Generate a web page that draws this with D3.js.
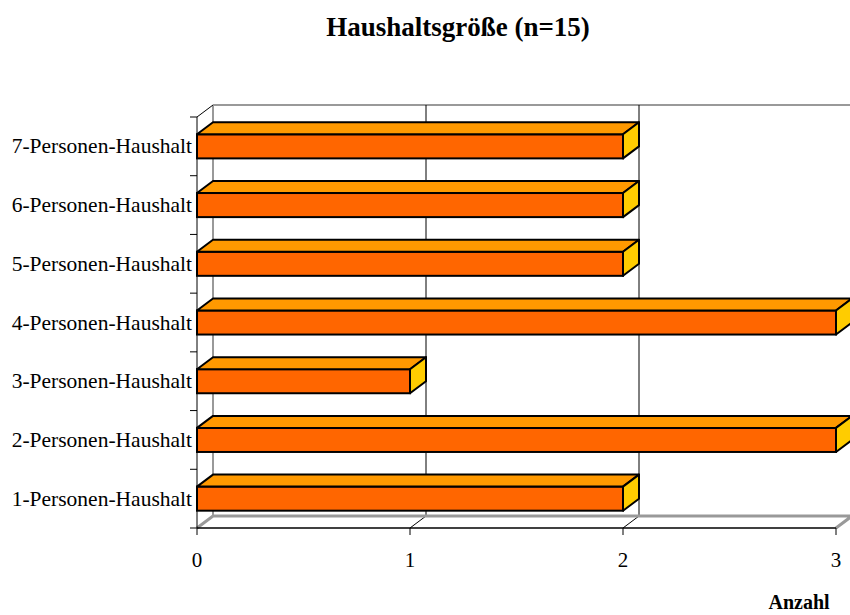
<!DOCTYPE html>
<html>
<head>
<meta charset="utf-8">
<script src="https://cdn.jsdelivr.net/npm/d3@7"></script>
<style>
  body { margin: 0; background: #fff; }
  text { font-family: "Liberation Serif", "Times New Roman", serif; fill: #000; }
</style>
</head>
<body>
<div class="chart"></div>
<script>
const categories = [
  "1-Personen-Haushalt",
  "2-Personen-Haushalt",
  "3-Personen-Haushalt",
  "4-Personen-Haushalt",
  "5-Personen-Haushalt",
  "6-Personen-Haushalt",
  "7-Personen-Haushalt"
]
const counts = [2, 3, 1, 3, 2, 2, 2]
const xTicks = [0, 1, 2, 3]
const title = "Haushaltsgröße (n=15)"
const xTitle = "Anzahl"

const init = () => {
  const width = 850
  const height = 615
  const margin = { top: 117, bottom: 87, left: 197, right: 14 }
  // depth of the 3d box
  const depth = { dx: 16, dy: -12 }

  const svg = d3.select('.chart')
    .append('svg')
    .attr('width', width)
    .attr('height', height)

  const dataset = categories.map((c, i) => ({ cat: c, value: counts[i] }))

  const xScale = d3.scaleLinear()
    .domain([0, 3])
    .range([margin.left, width - margin.right])

  // top of chart is the last category
  const yScale = d3.scaleBand()
    .domain(categories.slice().reverse())
    .range([margin.top, height - margin.bottom])
    .paddingInner(0.59)
    .paddingOuter(0.295)

  const y0 = margin.top
  const y1 = height - margin.bottom
  const x0 = xScale(0)
  const gray = '#999999'

  // back wall edges
  svg.append('line')
    .attr('x1', x0 + depth.dx).attr('y1', y0 + depth.dy)
    .attr('x2', x0 + depth.dx).attr('y2', y1 + depth.dy)
    .attr('stroke', gray).attr('stroke-width', 2)
  svg.append('line')
    .attr('x1', x0 + depth.dx).attr('y1', y0 + depth.dy)
    .attr('x2', width + 10).attr('y2', y0 + depth.dy)
    .attr('stroke', gray).attr('stroke-width', 2)

  // gridlines on back wall and floor
  xTicks.filter(t => t > 0).forEach(t => {
    const x = xScale(t)
    svg.append('polyline')
      .attr('points', [[x + depth.dx, y0 + depth.dy], [x + depth.dx, y1 + depth.dy], [x, y1]].join(' '))
      .attr('fill', 'none')
      .attr('stroke', '#000')
      .attr('stroke-width', 1)
  })

  // floor
  svg.append('polyline')
    .attr('points', [[x0, y1], [x0 + depth.dx, y1 + depth.dy], [xScale(3) + depth.dx, y1 + depth.dy], [xScale(3), y1]].join(' '))
    .attr('fill', 'none')
    .attr('stroke', gray)
    .attr('stroke-width', 3)

  // top-left diagonal of the axis
  svg.append('line')
    .attr('x1', x0).attr('y1', y0)
    .attr('x2', x0 + depth.dx).attr('y2', y0 + depth.dy)
    .attr('stroke', '#000').attr('stroke-width', 1)

  // left axis
  svg.append('line')
    .attr('x1', x0).attr('y1', y0)
    .attr('x2', x0).attr('y2', y1)
    .attr('stroke', '#000').attr('stroke-width', 1)

  const bounds = d3.range(categories.length + 1).map(i => y0 + i * yScale.step())
  svg.selectAll('.ytick')
    .data(bounds)
    .join('line')
    .attr('class', 'ytick')
    .attr('x1', x0 - 7).attr('x2', x0)
    .attr('y1', d => d).attr('y2', d => d)
    .attr('stroke', '#000').attr('stroke-width', 1)

  // bottom axis
  svg.append('line')
    .attr('x1', x0).attr('y1', y1)
    .attr('x2', xScale(3)).attr('y2', y1)
    .attr('stroke', '#000').attr('stroke-width', 1.5)

  svg.selectAll('.xtick')
    .data(xTicks)
    .join('line')
    .attr('class', 'xtick')
    .attr('x1', d => xScale(d)).attr('x2', d => xScale(d))
    .attr('y1', y1).attr('y2', y1 + 7)
    .attr('stroke', '#000').attr('stroke-width', 1)

  svg.selectAll('.xlabel')
    .data(xTicks)
    .join('text')
    .attr('class', 'xlabel')
    .attr('x', d => xScale(d))
    .attr('y', 567)
    .attr('text-anchor', 'middle')
    .attr('font-size', 21)
    .text(d => d)

  // bars
  const bars = svg.selectAll('.bar')
    .data(dataset)
    .join('g')
    .attr('class', 'bar')

  const bw = yScale.bandwidth()

  bars.append('rect')
    .attr('x', x0)
    .attr('y', d => yScale(d.cat))
    .attr('width', d => xScale(d.value) - x0)
    .attr('height', bw)
    .attr('fill', '#FF6600')
    .attr('stroke', '#000')
    .attr('stroke-width', 2)

  bars.append('polygon')
    .attr('points', d => {
      const top = yScale(d.cat)
      const xe = xScale(d.value)
      return [[x0, top], [x0 + depth.dx, top + depth.dy], [xe + depth.dx, top + depth.dy], [xe, top]].join(' ')
    })
    .attr('fill', '#FF9900')
    .attr('stroke', '#000')
    .attr('stroke-width', 2)
    .attr('stroke-linejoin', 'round')

  bars.append('polygon')
    .attr('points', d => {
      const top = yScale(d.cat)
      const xe = xScale(d.value)
      return [[xe, top], [xe + depth.dx, top + depth.dy], [xe + depth.dx, top + bw + depth.dy], [xe, top + bw]].join(' ')
    })
    .attr('fill', '#FFCC00')
    .attr('stroke', '#000')
    .attr('stroke-width', 2)
    .attr('stroke-linejoin', 'round')

  // category labels
  svg.selectAll('.ylabel')
    .data(categories)
    .join('text')
    .attr('class', 'ylabel')
    .attr('x', 192)
    .attr('y', d => yScale(d) + bw / 2 + 7)
    .attr('text-anchor', 'end')
    .attr('font-size', 21.5)
    .text(d => d)

  // titles
  svg.append('text')
    .attr('x', 458)
    .attr('y', 36)
    .attr('text-anchor', 'middle')
    .attr('font-size', 27)
    .attr('font-weight', 'bold')
    .text(title)

  svg.append('text')
    .attr('x', 799)
    .attr('y', 609)
    .attr('text-anchor', 'middle')
    .attr('font-size', 20)
    .attr('font-weight', 'bold')
    .text(xTitle)
}

init()
</script>
</body>
</html>
